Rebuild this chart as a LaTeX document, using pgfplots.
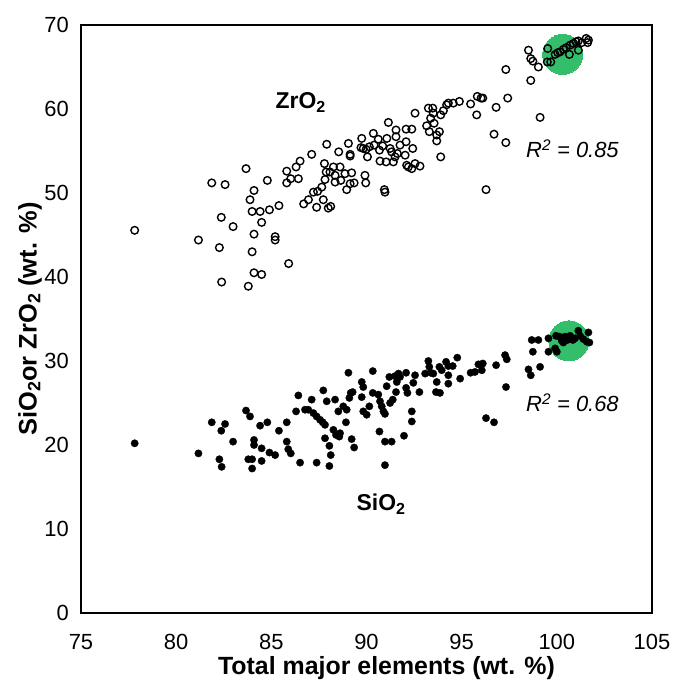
\documentclass[border=0pt]{standalone}
\usepackage{fontspec}
\setmainfont{Liberation Sans}
\usepackage{pgfplots}
\pgfplotsset{compat=1.18}
\definecolor{hl}{RGB}{52,190,108}
\begin{document}
\begin{tikzpicture}
\begin{axis}[name=ax, scale only axis, width=571bp, height=588bp,
  xmin=75, xmax=105, ymin=0, ymax=70,
  xtick={75,80,...,105}, ytick={0,10,...,70},
  major tick length=0pt,
  axis line style={line width=1.3bp},
  /pgf/number format/assume math mode=true,
  tick label style={font=\fontsize{22}{26}\selectfont, inner sep=0pt},
  xticklabel shift=21bp, yticklabel shift=12bp,
  xlabel={Total major elements (wt. \%)},
  ylabel={SiO\textsubscript{2}or ZrO\textsubscript{2} (wt. \%)},
  xlabel style={font=\fontsize{25}{29}\selectfont\bfseries, at={(axis description cs:0.535,-0.0935)}, anchor=center, inner sep=0pt},
  ylabel style={font=\fontsize{25.5}{29}\selectfont\bfseries, at={(axis description cs:-0.0893,0.5)}, anchor=center, inner sep=0pt},
]
\addplot[only marks, draw=none, mark=*, mark size=20bp, mark options={draw=hl, fill=hl, line width=0pt}] coordinates {(100.31,66.5) (100.63,32.4)};
% ZrO2
\addplot[only marks, mark=o, mark size=3.8bp, mark options={line width=1.4bp, draw=black}] coordinates {
(77.82,45.56) (81.17,44.4) (81.87,51.2) (82.57,51.0) (82.37,47.1) (82.27,43.5) (82.39,39.4) (82.99,46.0) (83.67,52.9) (84.09,50.3) (83.88,49.2) (83.99,47.8) (84.41,47.8) (84.49,46.5) (84.09,45.1) (83.99,43.0) (84.09,40.5) (84.49,40.3) (83.79,38.9) (84.79,51.5) (84.9,48.0) (85.4,48.5) (85.2,44.8) (85.2,44.4) (85.91,41.6) (85.81,52.6) (86.3,53.1) (86.51,53.8) (87.12,54.6) (85.81,51.2) (86.02,51.7) (86.42,51.7) (86.7,48.7) (86.95,49.2) (87.21,50.1) (87.43,50.2) (87.38,48.3)
(87.65,50.7) (87.73,49.2) (87.99,48.2) (88.12,48.4) (87.91,55.8) (87.79,53.5) (87.88,52.5) (87.82,51.6) (88.08,52.5) (88.26,53.1) (88.35,52.1) (88.35,51.3) (88.61,53.1) (88.65,51.5) (88.87,52.3) (88.96,50.4) (89.14,51.1) (89.22,52.4) (89.35,51.2) (88.54,54.9) (89.05,55.9) (89.14,54.6) (89.14,54.4) (89.75,56.5) (89.71,55.4) (89.83,55.3) (89.98,55.2) (90.05,54.3) (89.92,52.1) (89.96,51.2) (90.15,55.5) (90.36,57.1) (90.4,55.7) (90.62,56.4) (90.68,55.1) (90.71,53.8) (90.94,50.4) (90.97,50.1) (90.85,55.6) (91.03,53.7) (91.07,56.5) (91.15,58.4) (91.24,55.3) (91.32,54.9) (91.41,53.7) (91.5,54.3) (91.55,57.5) (91.55,56.7) (91.62,54.7) (91.76,55.7) (92.03,54.5) (92.08,57.6) (92.08,56.1) (92.11,53.3) (92.2,53.1) (92.38,57.6) (92.43,55.3) (92.38,52.9) (92.55,53.5) (92.81,53.2) (92.55,59.5) (93.16,58.0) (93.25,60.1) (93.3,57.3) (93.37,58.9) (93.48,60.1) (93.51,59.5) (93.55,58.3) (93.69,56.9) (93.69,56.2) (93.83,57.3) (93.9,59.3) (94.04,59.8) (93.9,54.3) (94.21,60.5) (94.3,60.7) (94.56,60.7) (94.88,60.9) (95.47,60.6) (95.82,61.5) (95.79,59.3)
(96.02,61.3) (96.11,61.3) (96.81,60.2) (97.42,61.3) (97.32,64.7) (96.7,57.0) (97.32,56.0) (99.12,59.0) (98.51,67.0) (98.63,66.0) (98.74,65.7) (99.03,65.0) (98.63,63.4) (99.52,67.2) (99.5,65.6) (99.68,65.6) (99.91,66.5) (100.05,66.7) (100.17,66.8) (100.34,67.1) (100.49,67.3) (100.66,66.5) (100.7,67.6) (100.87,67.8) (101.01,68.0) (101.13,67.0) (101.13,68.1) (101.31,67.9) (101.54,68.4) (101.66,68.2) (101.62,67.9) (96.28,50.4)
};
% SiO2
\addplot[only marks, mark=*, mark size=3.7bp, mark options={draw=black, fill=black, line width=0.3bp}] coordinates {
(77.82,20.2) (81.17,19.0) (81.87,22.7) (82.57,22.5) (82.37,21.7) (82.27,18.3) (82.39,17.4) (82.99,20.4) (83.67,24.1) (83.88,23.4) (84.09,20.6) (84.09,20.0) (84.41,22.3) (84.49,19.6) (83.79,18.3) (83.99,18.3) (83.99,17.2) (84.49,18.1) (84.79,22.7) (84.9,19.1) (85.2,18.8) (85.4,21.7) (85.81,22.7) (85.81,20.4) (85.89,19.5) (86.02,19.0) (86.51,17.9) (86.3,24.0) (86.42,25.9) (86.77,24.2) (87.12,25.4) (86.94,24.2) (87.38,17.9) (87.21,23.8)
(87.73,26.5) (87.91,25.2) (88.05,17.5) (88.12,18.8) (88.05,19.9) (87.38,23.4) (87.56,23.0) (87.7,22.7) (87.82,22.4) (87.82,20.8) (88.26,21.8) (88.35,25.4) (88.4,21.2) (88.52,24.0) (88.57,21.0) (88.61,21.4) (88.78,24.6) (88.96,24.2) (88.92,22.7) (89.05,28.6) (89.1,25.6) (89.17,26.2) (89.27,26.3) (89.22,20.7) (89.35,19.7) (89.75,27.5) (89.83,26.9) (89.75,25.7) (89.83,24.0) (90.01,23.6) (90.15,24.6) (90.33,28.8) (90.33,26.2) (90.62,26.0) (90.71,25.2) (90.8,24.6) (90.89,24.0) (90.97,23.7) (90.68,21.6) (90.97,20.4) (91.32,20.4) (90.97,17.6) (91.06,27.0) (91.2,28.1) (91.24,25.0) (91.38,25.4) (91.5,28.2) (91.59,27.5) (91.55,26.3) (91.68,28.5) (91.76,28.1) (91.97,21.1) (92.08,28.6) (92.08,26.8) (92.15,26.2) (92.38,24.0) (92.38,22.8) (92.46,27.4) (92.55,28.3) (92.78,26.3) (93.08,28.5) (93.25,30.0) (93.3,29.3) (93.37,28.6) (93.51,28.5) (93.69,27.5) (93.65,26.3) (93.86,26.2) (93.83,29.3) (93.95,28.9) (94.18,29.9) (94.3,29.4) (94.3,28.3) (94.3,27.3) (94.53,29.4) (94.77,30.4) (94.92,27.9) (95.47,28.6) (95.7,28.7) (95.88,29.6) (96.06,28.9) (96.11,29.7) (96.81,29.5) (96.28,23.2) (96.7,22.7)
(97.28,30.7) (97.37,30.2) (97.33,26.9) (98.68,32.5) (99.03,32.5) (98.74,31.1) (98.51,29.0) (98.63,28.3) (99.12,29.3) (99.56,32.7) (99.56,31.1) (99.91,31.5) (100.0,31.1) (99.96,33.0) (100.13,32.9) (100.26,32.4) (100.43,32.9) (100.55,32.5) (100.7,33.0) (100.84,32.5) (100.96,32.7) (101.13,33.6) (101.22,33.0) (101.4,32.6) (101.66,33.4) (101.71,32.2) (101.57,32.3) (100.34,32.2)
};
\node[anchor=base west, inner sep=0pt, font=\fontsize{23}{27}\selectfont\bfseries] at (axis cs:85.22,60.0) {ZrO\textsubscript{2}};
\node[anchor=base west, inner sep=0pt, font=\fontsize{23}{27}\selectfont\bfseries] at (axis cs:89.47,12.18) {SiO\textsubscript{2}};
\node[anchor=base west, inner sep=0pt, font=\fontsize{22}{26}\selectfont\itshape] at (axis cs:98.38,54.2) {R\textsuperscript{2} = 0.85};
\node[anchor=base west, inner sep=0pt, font=\fontsize{22}{26}\selectfont\itshape] at (axis cs:98.38,23.96) {R\textsuperscript{2} = 0.68};
\end{axis}
\pgfresetboundingbox
\path ([shift={(-81bp,-69bp)}]ax.south west) rectangle ([shift={(31bp,25bp)}]ax.north east);
\end{tikzpicture}
\end{document}
